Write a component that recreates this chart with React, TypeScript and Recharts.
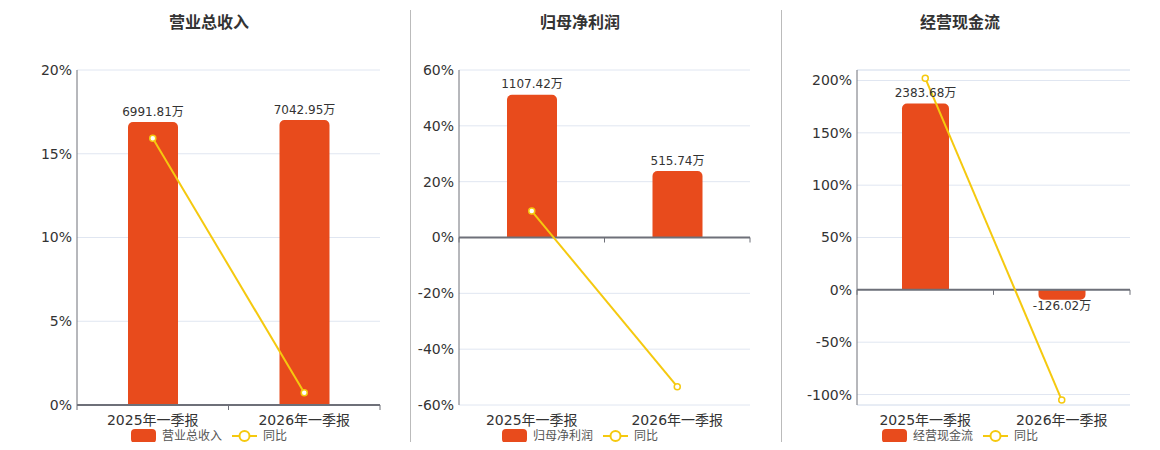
import React from 'react';
import {
  ComposedChart,
  Bar,
  Line,
  XAxis,
  YAxis,
  CartesianGrid,
  ReferenceLine,
  LabelList,
  Legend,
} from 'recharts';

// ---- data ----
const categories = ['2025年一季报', '2026年一季报'];

const revenueValues = [6991.81, 7042.95];
const revenueYoY = [15.93, 0.73];

const netProfitValues = [1107.42, 515.74];
const netProfitYoY = [9.47, -53.43];

const cashFlowValues = [2383.68, -126.02];
const cashFlowYoY = [202.2, -105.29];

const revenueTicks = [0, 5, 10, 15, 20];
const netProfitTicks = [-60, -40, -20, 0, 20, 40, 60];
const cashFlowTicks = [-100, -50, 0, 50, 100, 150, 200];

// ---- styles ----
const BAR_COLOR = '#E84B1C';
const LINE_COLOR = '#F5C90F';
const AXIS_COLOR = '#6E7079';
const GRID_COLOR = '#E0E6F1';
const TEXT_COLOR = '#333';
const FONT = '"DejaVu Sans", "Noto Sans CJK SC", sans-serif';

function buildRows(values: number[], yoy: number[]) {
  return categories.map((c, i) => ({ name: c, value: values[i], yoy: yoy[i] }));
}

const BarLabel = (props: any) => {
  const { x, y, width, height, value } = props;
  const cx = x + width / 2;
  const top = Math.min(y, y + height);
  const bottom = Math.max(y, y + height);
  const ty = value >= 0 ? top - 6.5 : bottom + 10;
  return (
    <text x={cx} y={ty} textAnchor="middle" fontSize={12} fill={TEXT_COLOR} fontFamily={FONT}>
      {`${value}万`}
    </text>
  );
};

const ZeroAxis = (props: any) => {
  const { x1, x2, y1 } = props;
  const mid = (x1 + x2) / 2;
  return (
    <g>
      <line x1={x1} x2={x2} y1={y1} y2={y1} stroke={AXIS_COLOR} strokeWidth={2} />
      {[x1, mid, x2].map((tx: number, i: number) => (
        <line key={i} x1={tx} x2={tx} y1={y1} y2={y1 + 5} stroke={AXIS_COLOR} strokeWidth={1} />
      ))}
    </g>
  );
};

const makeLegend = (barName: string, width: number) => () => (
  <div
    style={{
      width,
      display: 'flex',
      justifyContent: 'center',
      alignItems: 'center',
      fontFamily: FONT,
      fontSize: 12,
      color: '#555',
      lineHeight: '14px',
    }}
  >
    <span
      style={{
        display: 'inline-block',
        width: 25,
        height: 14,
        borderRadius: 4,
        background: BAR_COLOR,
        marginRight: 6,
      }}
    />
    <span style={{ marginRight: 10 }}>{barName}</span>
    <svg width={25} height={14} style={{ marginRight: 6 }}>
      <line x1={0} x2={25} y1={7} y2={7} stroke={LINE_COLOR} strokeWidth={2} />
      <circle cx={12.5} cy={7} r={5} fill="#fff" stroke={LINE_COLOR} strokeWidth={2} />
    </svg>
    <span>同比</span>
  </div>
);

type PanelProps = {
  title: string;
  barName: string;
  values: number[];
  yoy: number[];
  ticks: number[];
  pctDomain: [number, number];
  barDomain: [number, number];
  chartLeft: number; // page coords
  chartWidth: number;
  yAxisWidth: number;
  centerX: number; // page coords
  barSize: number;
  extraGrid?: number[];
};

const Panel = (p: PanelProps) => {
  const rows = buildRows(p.values, p.yoy);
  const chartHeight = 434;
  const legendW = 220;
  return (
    <>
      <div
        style={{
          position: 'absolute',
          left: p.centerX - 8 - 100,
          top: 5,
          width: 200,
          textAlign: 'center',
          fontFamily: FONT,
          fontWeight: 'bold',
          fontSize: 16,
          lineHeight: '20px',
          color: TEXT_COLOR,
        }}
      >
        {p.title}
      </div>
      <div style={{ position: 'absolute', left: p.chartLeft - 8, top: 0 }}>
        <ComposedChart
          width={p.chartWidth}
          height={chartHeight}
          data={rows}
          margin={{ top: 62, right: 30, bottom: 7, left: 0 }}
          style={{ fontFamily: FONT }}
        >
          <CartesianGrid yAxisId="pct" vertical={false} stroke={GRID_COLOR} />
          <XAxis
            dataKey="name"
            axisLine={false}
            tickLine={false}
            tickSize={0}
            tickMargin={10}
            height={30}
            interval={0}
            tick={{ fontSize: 14, fill: TEXT_COLOR, fontFamily: FONT }}
          />
          <YAxis
            yAxisId="pct"
            orientation="left"
            width={p.yAxisWidth}
            domain={p.pctDomain}
            ticks={p.ticks}
            interval={0}
            allowDataOverflow
            tickFormatter={(v: number) => `${v}%`}
            axisLine={{ stroke: AXIS_COLOR, strokeWidth: 1 }}
            tickLine={false}
            tickSize={0}
            tickMargin={5}
            tick={{ fontSize: 14, fill: TEXT_COLOR, fontFamily: FONT }}
          />
          <YAxis yAxisId="bar" orientation="right" hide domain={p.barDomain} allowDataOverflow />
          {(p.extraGrid || []).map((g) => (
            <ReferenceLine key={g} yAxisId="pct" y={g} stroke={GRID_COLOR} strokeWidth={1} />
          ))}
          <Bar
            yAxisId="bar"
            dataKey="value"
            name={p.barName}
            fill={BAR_COLOR}
            barSize={p.barSize}
            radius={[5, 5, 0, 0]}
            isAnimationActive={false}
          >
            <LabelList dataKey="value" content={BarLabel} />
          </Bar>
          <ReferenceLine yAxisId="pct" y={0} shape={ZeroAxis} />
          <Line
            yAxisId="pct"
            type="linear"
            dataKey="yoy"
            name="同比"
            stroke={LINE_COLOR}
            strokeWidth={2}
            dot={{ r: 3, fill: '#fff', stroke: LINE_COLOR, strokeWidth: 1.5 }}
            activeDot={false}
            isAnimationActive={false}
          />
          <Legend
            verticalAlign="middle"
            align="center"
            layout="horizontal"
            wrapperStyle={{
              top: 421,
              left: p.centerX - p.chartLeft - legendW / 2,
              width: legendW,
            }}
            content={makeLegend(p.barName, legendW)}
          />
        </ComposedChart>
      </div>
    </>
  );
};

export default function App() {
  return (
    <div style={{ position: 'relative', width: 1144, height: 434, background: '#fff' }}>
      <div style={{ position: 'absolute', left: 402, top: 2, width: 1, height: 433, background: '#BBBBBB' }} />
      <div style={{ position: 'absolute', left: 773, top: 2, width: 1, height: 433, background: '#BBBBBB' }} />
      <Panel
        title="营业总收入"
        barName="营业总收入"
        values={revenueValues}
        yoy={revenueYoY}
        ticks={revenueTicks}
        pctDomain={[0, 20]}
        barDomain={[0, 8280]}
        chartLeft={8}
        chartWidth={402}
        yAxisWidth={69}
        centerX={209}
        barSize={50}
      />
      <Panel
        title="归母净利润"
        barName="归母净利润"
        values={netProfitValues}
        yoy={netProfitYoY}
        ticks={netProfitTicks}
        pctDomain={[-60, 60]}
        barDomain={[-1300, 1300]}
        chartLeft={411}
        chartWidth={369}
        yAxisWidth={48}
        centerX={580}
        barSize={50}
      />
      <Panel
        title="经营现金流"
        barName="经营现金流"
        values={cashFlowValues}
        yoy={cashFlowYoY}
        ticks={cashFlowTicks}
        pctDomain={[-110, 210]}
        barDomain={[-1473, 2812]}
        chartLeft={782}
        chartWidth={378}
        yAxisWidth={75}
        centerX={960}
        barSize={47}
        extraGrid={[-110, 210]}
      />
    </div>
  );
}
